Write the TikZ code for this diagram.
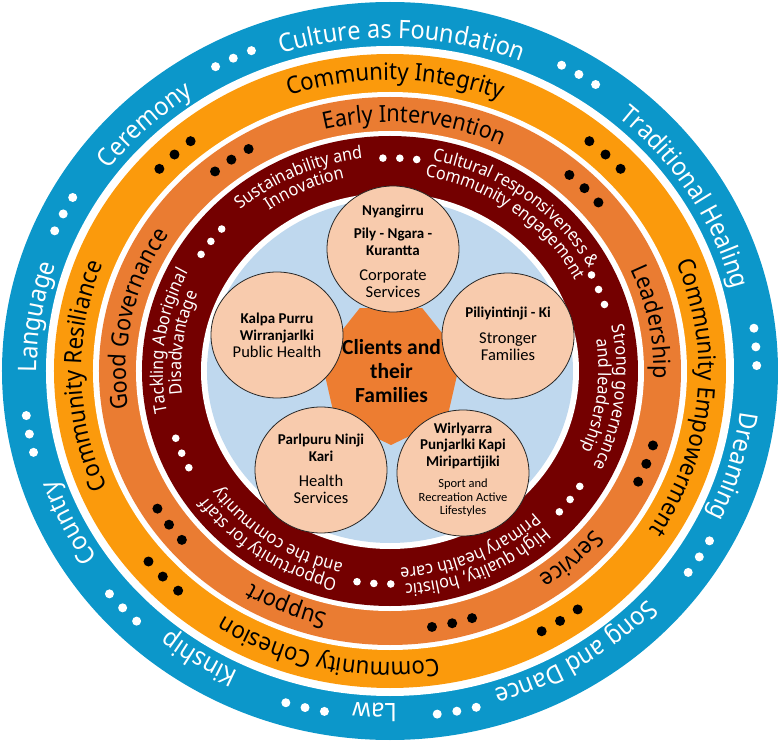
\documentclass[tikz,border=0pt]{standalone}
\usepackage{fontspec}
\setmainfont{Noto Sans}
\newfontfamily\ringfont[FakeStretch=0.92]{Noto Sans}
\newfontfamily\cfont{Carlito}
\usetikzlibrary{decorations.text,shapes.geometric}
\definecolor{ringblue}{HTML}{0C97CA}
\definecolor{ringorange}{HTML}{FB9A0C}
\definecolor{ringdorange}{HTML}{EA7C32}
\definecolor{ringred}{HTML}{740000}
\definecolor{discblue}{HTML}{BFD8EE}
\definecolor{peach}{HTML}{F8CBAD}
\definecolor{heptorange}{HTML}{ED7D31}
\newcommand{\fblue}{\ringfont\fontsize{25.5}{25}\selectfont}
\newcommand{\forange}{\ringfont\fontsize{24}{24}\selectfont}
\newcommand{\fdorange}{\ringfont\fontsize{23.5}{23}\selectfont}
\newcommand{\fred}{\ringfont\fontsize{17.5}{17}\selectfont}
% \ringtext[options]{radius}{center angle}{half span}{text color}{font}{text}
\newcommand{\ringtext}[7][]{%
  \pgfmathsetmacro{\rtx}{#2*1.06}%
  \pgfmathsetmacro{\rts}{#3+#4}%
  \pgfmathsetmacro{\rte}{#3-#4}%
  \path[#1, decorate, decoration={text along path, text align=center, text color=#5, text={|#6|#7}}]
    (\rts:\rtx pt and #2pt) arc[start angle=\rts, end angle=\rte, x radius=\rtx pt, y radius=#2pt];
}
\newcommand{\ringdots}[5]{%
  \pgfmathsetmacro{\rdx}{#1*1.06}%
  \foreach \k in {-1,0,1}{%
    \pgfmathsetmacro{\rda}{#2+\k*#3}%
    \fill[#4] (\rda:\rdx pt and #1pt) circle[radius=#5pt];
  }%
}
\tikzset{
  circ/.style={ellipse, draw=black!85, line width=0.8pt, fill=peach, minimum width=132pt, minimum height=126pt, inner sep=0pt},
  ctext/.style={align=center, inner sep=0pt, font=\cfont\fontsize{15}{17}\selectfont},
  small/.style={align=center, inner sep=0pt, font=\cfont\fontsize{12.5}{13.6}\selectfont},
}
\begin{document}
\begin{tikzpicture}[x=1pt,y=1pt]
\useasboundingbox (-390,-371) rectangle (390,371);
% rings
\fill[ringblue] (0,0) ellipse[x radius=388pt, y radius=369pt];
\fill[white] (0,0) ellipse[x radius=344pt, y radius=325pt];
\fill[ringorange] (0,0) ellipse[x radius=336pt, y radius=317pt];
\fill[white] (0,0) ellipse[x radius=297pt, y radius=279pt];
\fill[ringdorange] (0,0) ellipse[x radius=291pt, y radius=274pt];
\fill[white] (0,0) ellipse[x radius=254pt, y radius=240pt];
\fill[ringred] (0,0) ellipse[x radius=248pt, y radius=235pt];
\fill[white] (0,0) ellipse[x radius=189pt, y radius=178pt];
\fill[discblue] (0,0) ellipse[x radius=183pt, y radius=172pt];
% blue ring texts
\ringtext{333}{88}{40}{white}{\fblue}{Culture as Foundation}
\ringtext{333}{31.4}{40}{white}{\fblue}{Traditional Healing}
\ringtext{333}{-16}{40}{white}{\fblue}{Dreaming}
\ringtext{333}{-57.5}{40}{white}{\fblue}{Song and Dance}
\ringtext{333}{-92.5}{40}{white}{\fblue}{Law}
\ringtext{333}{-122.7}{40}{white}{\fblue}{Kinship}
\ringtext{333}{-154}{40}{white}{\fblue}{Country}
\ringtext{333}{171}{40}{white}{\fblue}{Language}
\ringtext{333}{134}{40}{white}{\fblue}{Ceremony}
\ringdots{346}{59}{3.1}{white}{4.5}
\ringdots{346}{4}{3.1}{white}{4.5}
\ringdots{346}{-32.5}{3.1}{white}{4.5}
\ringdots{346}{-79.5}{3.1}{white}{4.5}
\ringdots{346}{-103.4}{3.1}{white}{4.5}
\ringdots{346}{-136.8}{3.1}{white}{4.5}
\ringdots{346}{-169.5}{3.1}{white}{4.5}
\ringdots{346}{153}{3.1}{white}{4.5}
\ringdots{346}{115.3}{3.1}{white}{4.5}
% light orange ring
\ringtext{291}{89}{40}{black}{\forange}{Community Integrity}
\ringtext{291}{-5.5}{40}{black}{\forange}{Community Empowerment}
\ringtext{291}{-102}{40}{black}{\forange}{Community Cohesion}
\ringtext{291}{181}{40}{black}{\forange}{Community Resiliance}
\ringdots{297}{46.8}{3.9}{black}{5}
\ringdots{297}{-57.3}{3.9}{black}{5}
\ringdots{297}{-136.2}{3.9}{black}{5}
\ringdots{297}{133.2}{3.9}{black}{5}
% dark orange ring
\ringtext{249}{84.6}{40}{black}{\fdorange}{Early Intervention}
\ringtext{249}{11}{40}{black}{\fdorange}{Leadership}
\ringtext{249}{-47}{40}{black}{\fdorange}{Service}
\ringtext{249}{-113}{40}{black}{\fdorange}{Support}
\ringtext{249}{168}{40}{black}{\fdorange}{Good Governance}
\ringdots{259}{44.9}{4.3}{black}{5}
\ringdots{259}{-21}{4.3}{black}{5}
\ringdots{259}{-76.9}{4.3}{black}{5}
\ringdots{259}{-143.6}{4.3}{black}{5}
\ringdots{259}{125.3}{4.3}{black}{5}
% dark red ring
\ringtext{214}{114.4}{40}{white}{\fred}{Sustainability and}
\ringtext{197}{114.4}{40}{white}{\fred}{Innovation}
\ringtext{214}{53.5}{40}{white}{\fred}{Cultural responsiveness {\&}}
\ringtext{197}{53.5}{40}{white}{\fred}{Community engagement}
\ringtext{214}{-7}{40}{white}{\fred}{Strong governance}
\ringtext{197}{-7}{40}{white}{\fred}{and leadership}
\ringtext{214}{-66.3}{40}{white}{\fred}{High quality, holistic}
\ringtext{197}{-66.3}{40}{white}{\fred}{Primary health care}
\ringtext{214}{-124}{40}{white}{\fred}{Opportunity for staff}
\ringtext{197}{-124}{40}{white}{\fred}{and the community}
\ringtext{214}{172}{40}{white}{\fred}{Tackling Aboriginal}
\ringtext{197}{172}{40}{white}{\fred}{Disadvantage}
\ringdots{213}{87.5}{4.3}{white}{3.8}
\ringdots{213}{22.5}{4.3}{white}{3.8}
\ringdots{213}{-37.1}{4.3}{white}{3.8}
\ringdots{213}{-94.1}{4.3}{white}{3.8}
\ringdots{213}{-157.3}{4.3}{white}{3.8}
\ringdots{213}{142.5}{4.3}{white}{3.8}
% centre heptagon
\fill[heptorange, shift={(1,-2)}] (-90:72) -- ({-90+360/7}:72) -- ({-90+2*360/7}:72) -- ({-90+3*360/7}:72) -- ({-90+4*360/7}:72) -- ({-90+5*360/7}:72) -- ({-90+6*360/7}:72) -- cycle;
% circles
\node[circ] (top) at (3,122) {};
\node[circ] (left) at (-113,36) {};
\node[circ] (right) at (118,35) {};
\node[circ] (bl) at (-69,-99) {};
\node[circ] (br) at (73,-102) {};
\node[align=center, inner sep=0pt, font=\cfont\bfseries\fontsize{21.5}{24}\selectfont] (clients) at (1.5,-0.5) {Clients and\\their\\Families};
\node[ctext] (toptext) at (3,120) {{\bfseries Nyangirru}\\[6pt]{\bfseries Pily - Ngara -}\\{\bfseries Kurantta}\\[8pt]{\fontsize{16.5}{17}\selectfont Corporate}\\{\fontsize{16.5}{17}\selectfont Services}};
\node[ctext] (lefttext) at (-113,36) {{\bfseries Kalpa Purru}\\{\bfseries Wirranjarlki}\\{\fontsize{16.5}{17}\selectfont Public Health}};
\node[ctext] (righttext) at (118,37) {{\bfseries Piliyintinji - Ki}\\[9pt]{\fontsize{16.5}{17}\selectfont Stronger}\\{\fontsize{16.5}{17}\selectfont Families}};
\node[ctext] (bltext) at (-69,-98) {{\bfseries Parlpuru Ninji}\\{\bfseries Kari}\\[8pt]{\fontsize{16.5}{17}\selectfont Health}\\{\fontsize{16.5}{17}\selectfont Services}};
\node[ctext, font=\cfont\bfseries\fontsize{15}{16.5}\selectfont] (brtitle) at (73,-75) {Wirlyarra\\Punjarlki Kapi\\Miripartijiki};
\node[small] (brsub) at (73,-127) {Sport and\\Recreation Active\\Lifestyles};
\end{tikzpicture}
\end{document}
